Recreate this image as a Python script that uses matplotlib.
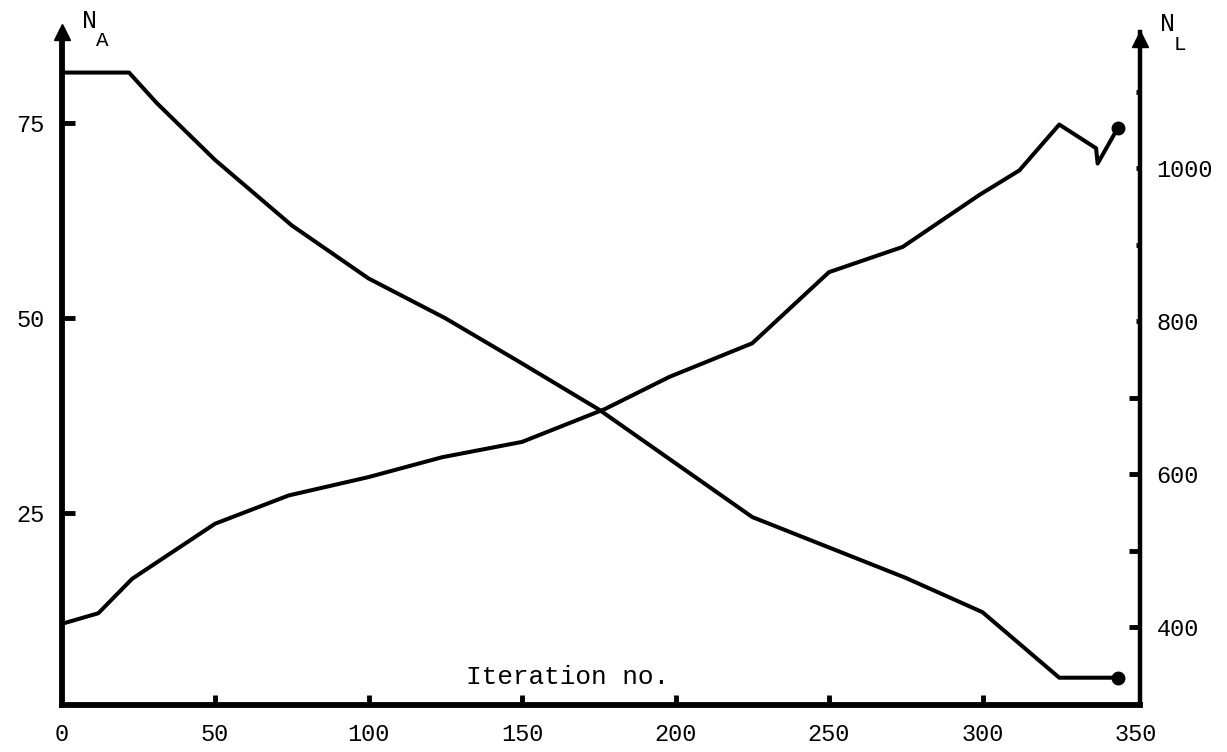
import numpy as np
import matplotlib.pyplot as plt

# iteration number vs N_A (left axis)
iters_a = [0, 22, 31, 50, 75, 100, 125, 150, 175, 200, 225, 250, 275, 300, 325, 344]
n_a = [81.5, 81.5, 77.6, 70.3, 61.9, 55.1, 50.0, 44.2, 38.3, 31.4, 24.5, 20.6, 16.7, 12.3, 3.9, 3.9]

# iteration number vs N_L (right axis)
iters_l = [0, 12, 23, 50, 74, 100, 124, 150, 177, 198, 225, 250, 274, 299, 312, 325, 337, 337.5, 344]
n_l = [404, 418, 463, 535, 572, 596, 622, 642, 685, 727, 771, 864, 897, 965, 997, 1057, 1026, 1006, 1052]

x_ticks = [0, 50, 100, 150, 200, 250, 300, 350]
a_ticks = [25, 50, 75]
l_ticks = [400, 500, 600, 700, 800, 900, 1000, 1100]
l_labels = ['400', '', '600', '', '800', '', '1000', '']

mono = ['Liberation Mono', 'DejaVu Sans Mono']
plt.rcParams['font.family'] = mono

fig = plt.figure(figsize=(12.27, 7.52), dpi=100)
W, H = 1227, 752
ax = fig.add_axes([61.5 / W, (H - 705) / H, (1140 - 61.5) / W, (705 - 32) / H])
ax2 = ax.twinx()

lw = 2.9
ax.plot(iters_a, n_a, color='black', lw=lw, solid_joinstyle='round')
ax.plot(iters_a[-1], n_a[-1], 'o', color='black', ms=9, clip_on=False)
ax2.plot(iters_l, n_l, color='black', lw=lw, solid_joinstyle='round')
ax2.plot(iters_l[-1], n_l[-1], 'o', color='black', ms=9, clip_on=False)

ax.set_xlim(0, 351.3)
ax.set_ylim(0.4, 86.7)
ax2.set_ylim(298, 1178)

for a in (ax, ax2):
    a.spines['top'].set_visible(False)
ax.spines['left'].set_linewidth(4.2)
ax.spines['bottom'].set_linewidth(4.2)
ax2.spines['right'].set_linewidth(3.2)
ax.spines['right'].set_visible(False)
ax2.spines['left'].set_visible(False)
ax2.spines['bottom'].set_visible(False)

ax.set_xticks(x_ticks)
ax.set_xticklabels([str(v) for v in x_ticks])
ax.set_yticks(a_ticks)
ax.set_yticklabels([str(v) for v in a_ticks])
ax2.set_yticks(l_ticks)
ax2.set_yticklabels(l_labels)

ax.tick_params(axis='x', direction='in', length=7, width=3.5, pad=13, labelsize=17)
ax.tick_params(axis='y', direction='in', length=9, width=3.5, pad=12, labelsize=17)
ax2.tick_params(axis='y', direction='in', length=8, width=3.5, pad=12, labelsize=17)

# corner ticks are hidden by the spines in the original
for t in ax.xaxis.get_major_ticks():
    if t.get_loc() in (0, 350):
        t.tick1line.set_visible(False)
for t in ax2.yaxis.get_major_ticks():
    if t.get_loc() >= 800:
        t.tick2line.set_markersize(3)
        t.tick2line.set_color('#999999')
    if t.get_loc() == 1100:
        t.tick2line.set_color('black')

# arrow heads at the top of the vertical axes
ax.plot([0], [1.0], marker='^', ms=12, color='black', transform=ax.transAxes, clip_on=False)
ax2.plot([1], [0.99], marker='^', ms=11, color='black', transform=ax2.transAxes, clip_on=False)

# axis names: N with a subscript letter
fig.text(82 / W, 1 - 21 / H, 'N', fontsize=18, ha='left', va='center')
fig.text(96 / W, 1 - 40 / H, 'A', fontsize=15, ha='left', va='center')
fig.text(1160 / W, 1 - 24 / H, 'N', fontsize=18, ha='left', va='center')
fig.text(1174 / W, 1 - 44 / H, 'L', fontsize=15, ha='left', va='center')

ax.text(165, 4.0, 'Iteration no.', fontsize=18.8, ha='center', va='center')

fig.savefig('out.png', dpi=100)
